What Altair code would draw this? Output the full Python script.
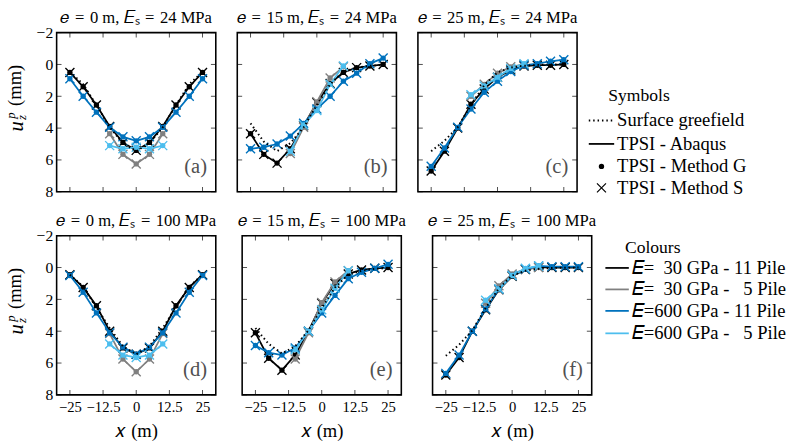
import altair as alt
import pandas as pd

# Pile positions along the row (m) and axis tick values
X11 = [-25, -20, -15, -10, -5, 0, 5, 10, 15, 20, 25]
X5 = [-10, -5, 0, 5, 10]
X_TICKS = [-25, -12.5, 0, 12.5, 25]
Y_TICKS = [-2, 0, 2, 4, 6, 8]

# (a) e = 0 m, Es = 24 MPa  -- vertical displacement (mm)
A_GF = [0.45, 1.25, 2.55, 3.95, 4.95, 5.45, 4.95, 3.95, 2.55, 1.25, 0.45]
A_E30_N11 = [0.5, 1.4, 2.55, 3.9, 4.9, 5.4, 4.9, 3.9, 2.55, 1.4, 0.5]
A_E30_N5 = [4.35, 5.65, 6.25, 5.65, 4.35]
A_E600_N11 = [0.9, 2.0, 3.0, 3.95, 4.55, 4.8, 4.55, 3.95, 3.0, 2.0, 0.9]
A_E600_N5 = [5.1, 5.3, 5.2, 5.3, 5.1]

# (b) e = 15 m, Es = 24 MPa
B_GF = [3.7, 4.85, 5.45, 4.95, 3.95, 2.55, 1.25, 0.45, 0.2, 0.08, 0.03]
B_E30_N11 = [4.35, 5.65, 6.2, 5.3, 3.85, 2.4, 1.2, 0.5, 0.2, 0.1, 0.0]
B_E30_N5 = [5.6, 3.95, 2.35, 0.85, 0.15]
B_E600_N11 = [5.3, 5.2, 5.0, 4.5, 3.7, 2.8, 2.0, 1.05, 0.55, -0.05, -0.4]
B_E600_N5 = [5.45, 3.8, 2.9, 1.25, 0.1]

# (c) e = 25 m, Es = 24 MPa
C_GF = [5.45, 4.8, 3.95, 2.55, 1.3, 0.5, 0.2, 0.08, 0.03, 0.01, 0.0]
C_E30_N11 = [6.7, 5.45, 4.0, 2.5, 1.55, 0.8, 0.35, 0.1, 0.05, 0.05, 0.0]
C_E30_N5 = [2.0, 1.25, 0.55, 0.15, 0.0]
C_E600_N11 = [6.4, 5.25, 3.95, 2.8, 1.75, 1.05, 0.45, 0.05, -0.05, -0.2, -0.3]
C_E600_N5 = [1.9, 1.35, 0.8, 0.25, -0.05]

# (d) e = 0 m, Es = 100 MPa
D_GF = [0.45, 1.2, 2.5, 3.8, 4.95, 5.45, 4.95, 3.8, 2.5, 1.2, 0.45]
D_E30_N11 = [0.45, 1.25, 2.4, 4.0, 5.05, 5.45, 5.05, 4.0, 2.4, 1.25, 0.45]
D_E30_N5 = [4.15, 5.75, 6.55, 5.75, 4.15]
D_E600_N11 = [0.5, 1.55, 2.85, 4.1, 5.0, 5.45, 5.0, 4.1, 2.85, 1.55, 0.5]
D_E600_N5 = [4.8, 5.5, 5.65, 5.5, 4.8]

# (e) e = 15 m, Es = 100 MPa
E_GF = [3.8, 4.8, 5.4, 4.95, 3.95, 2.55, 1.25, 0.45, 0.2, 0.08, 0.03]
E_E30_N11 = [4.1, 5.7, 6.45, 5.5, 4.0, 2.25, 1.0, 0.4, 0.15, 0.05, 0.0]
E_E30_N5 = [5.75, 4.1, 2.2, 0.9, 0.2]
E_E600_N11 = [4.9, 5.35, 5.5, 5.05, 4.0, 2.85, 1.75, 0.7, 0.3, 0.05, -0.2]
E_E600_N5 = [5.15, 4.0, 2.65, 1.3, 0.2]

# (f) e = 25 m, Es = 100 MPa
F_GF = [5.55, 4.85, 3.95, 2.55, 1.3, 0.5, 0.2, 0.08, 0.03, 0.01, 0.0]
F_E30_N11 = [6.75, 5.65, 4.0, 2.65, 1.4, 0.55, 0.12, -0.02, 0.0, 0.0, 0.0]
F_E30_N5 = [2.25, 1.15, 0.4, 0.1, 0.0]
F_E600_N11 = [6.65, 5.5, 4.0, 2.6, 1.35, 0.5, 0.1, -0.1, -0.05, -0.05, -0.05]
F_E600_N5 = [2.05, 1.35, 0.5, 0.05, -0.1]

EQ = "\u2004=\u2004"
TITLES = [
    f"𝑒{EQ}0 m, 𝐸ₛ{EQ}24 MPa", f"𝑒{EQ}15 m, 𝐸ₛ{EQ}24 MPa", f"𝑒{EQ}25 m, 𝐸ₛ{EQ}24 MPa",
    f"𝑒{EQ}0 m, 𝐸ₛ{EQ}100 MPa", f"𝑒{EQ}15 m, 𝐸ₛ{EQ}100 MPa", f"𝑒{EQ}25 m, 𝐸ₛ{EQ}100 MPa",
]
LETTERS = ["(a)", "(b)", "(c)", "(d)", "(e)", "(f)"]
GREENFIELD = [A_GF, B_GF, C_GF, D_GF, E_GF, F_GF]
SETTLEMENT = [
    [A_E30_N11, A_E30_N5, A_E600_N11, A_E600_N5],
    [B_E30_N11, B_E30_N5, B_E600_N11, B_E600_N5],
    [C_E30_N11, C_E30_N5, C_E600_N11, C_E600_N5],
    [D_E30_N11, D_E30_N5, D_E600_N11, D_E600_N5],
    [E_E30_N11, E_E30_N5, E_E600_N11, E_E600_N5],
    [F_E30_N11, F_E30_N5, F_E600_N11, F_E600_N5],
]
SERIES_X = [X11, X5, X11, X5]
SERIES_COLORS = ["#000000", "#808080", "#0072BD", "#4DBEEE"]

SYM_TITLE = "Symbols"
SYM_LABELS = ["Surface greefield", "TPSI - Abaqus", "TPSI - Method G", "TPSI - Method S"]
COL_TITLE = "Colours"
COL_LABELS = [
    "𝐸=\u200730 GPa - 11 Piles",
    "𝐸=\u200730 GPa - \u20075 Piles",
    "𝐸=600 GPa - 11 Piles",
    "𝐸=600 GPa - \u20075 Piles",
]

SERIF = "Liberation Serif"
W = H = 163
XS = alt.Scale(domain=[-30, 30], nice=False, zero=False)
YS = alt.Scale(domain=[-2, 8], reverse=True, nice=False, zero=False)
CROSS = "M-1,-1L1,1M-1,1L1,-1"


def x_enc(show):
    if show:
        ax = alt.Axis(values=X_TICKS, format=".3~g", ticks=False, domain=False, grid=False,
                      labelFont=SERIF, labelFontSize=15, labelColor="black",
                      labelPadding=5, labelOverlap=False, labelFlush=False,
                      title="𝑥 (m)", titleFont=SERIF, titleFontSize=19,
                      titleFontWeight="normal", titleColor="black", titlePadding=8)
        return alt.X("x:Q", scale=XS, axis=ax)
    return alt.X("x:Q", scale=XS, axis=None)


def y_enc(show):
    if show:
        ax = alt.Axis(values=Y_TICKS, format=".3~g", ticks=False, domain=False, grid=False,
                      labelFont=SERIF, labelFontSize=16, labelColor="black",
                      labelPadding=4, labelOverlap=False, labelFlush=False, title=None)
        return alt.Y("y:Q", scale=YS, axis=ax)
    return alt.Y("y:Q", scale=YS, axis=None)


def one(t):
    return alt.Chart(pd.DataFrame({"t": [t]}))


LEG_TXT = dict(font=SERIF, fontSize=19, color="black", align="left", baseline="middle",
               limit=162, ellipsis="\u200b")


def legend_symbols():
    rows = pd.DataFrame({"t": SYM_LABELS, "py": [90, 114, 137, 159]})
    yv = alt.Y("py:Q", scale=None)
    src = alt.Chart(rows)
    head = dict(LEG_TXT, fontSize=18)
    return [
        one(SYM_TITLE).mark_text(**head).encode(text="t:N", x=alt.value(W + 32), y=alt.value(65)),
        src.mark_text(**LEG_TXT).encode(text="t:N", x=alt.value(W + 41), y=yv),
        alt.Chart(rows.iloc[[0]]).mark_rule(color="black", strokeWidth=2, strokeDash=[1.5, 3]).encode(
            x=alt.value(W + 12), x2=alt.value(W + 38), y=yv),
        alt.Chart(rows.iloc[[1]]).mark_rule(color="black", strokeWidth=1.8).encode(
            x=alt.value(W + 12), x2=alt.value(W + 38), y=yv),
        alt.Chart(rows.iloc[[2]]).mark_circle(color="black", size=30, opacity=1).encode(
            x=alt.value(W + 25), y=yv),
        alt.Chart(rows.iloc[[3]]).mark_point(shape=CROSS, color="black", size=85, strokeWidth=1.2,
                                             filled=False, opacity=1).encode(x=alt.value(W + 25), y=yv),
    ]


def legend_colours():
    rows = pd.DataFrame({"t": COL_LABELS, "py": [33, 55, 77, 100], "c": SERIES_COLORS})
    yv = alt.Y("py:Q", scale=None)
    src = alt.Chart(rows)
    head = dict(LEG_TXT, fontSize=18)
    return [
        one(COL_TITLE).mark_text(**head).encode(text="t:N", x=alt.value(W + 34), y=alt.value(13)),
        src.mark_rule(strokeWidth=1.8).encode(x=alt.value(W + 14), x2=alt.value(W + 38), y=yv,
                                              color=alt.Color("c:N", scale=None)),
        src.mark_text(**LEG_TXT).encode(text="t:N", x=alt.value(W + 41), y=yv),
    ]


def panel(i, show_y, show_x):
    layers = []
    for xs_, vals, col in zip(SERIES_X, SETTLEMENT[i], SERIES_COLORS):
        base = alt.Chart(pd.DataFrame({"x": xs_, "y": vals})).encode(
            x=x_enc(show_x), y=y_enc(show_y))
        layers.append(base.mark_line(color=col, strokeWidth=1.8))
        layers.append(base.mark_circle(color=col, size=30, opacity=1))
        layers.append(base.mark_point(shape=CROSS, color=col, size=85,
                                      strokeWidth=1.4, filled=False, opacity=1))

    gf = alt.Chart(pd.DataFrame({"x": X11, "y": GREENFIELD[i]})).mark_line(
        color="black", strokeDash=[1.5, 3], strokeWidth=2
    ).encode(x=x_enc(show_x), y=y_enc(show_y))
    layers.append(gf)

    # inward ticks on all four sides
    xt = alt.Chart(pd.DataFrame({"x": X_TICKS}))
    yt = alt.Chart(pd.DataFrame({"y": Y_TICKS}))
    tk = dict(color="black", size=5, thickness=1)
    layers.append(xt.mark_tick(orient="vertical", **tk).encode(x=x_enc(show_x), y=alt.value(H - 2.5)))
    layers.append(xt.mark_tick(orient="vertical", **tk).encode(x=x_enc(show_x), y=alt.value(2.5)))
    layers.append(yt.mark_tick(orient="horizontal", **tk).encode(y=y_enc(show_y), x=alt.value(2.5)))
    layers.append(yt.mark_tick(orient="horizontal", **tk).encode(y=y_enc(show_y), x=alt.value(W - 2.5)))

    # panel letter and heading
    layers.append(one(LETTERS[i]).mark_text(
        align="right", baseline="middle", font=SERIF, fontSize=21, color="#505050"
    ).encode(text="t:N", x=alt.value(W - 9), y=alt.value(H - 25)))
    layers.append(one(TITLES[i]).mark_text(
        align="center", baseline="middle", font=SERIF, fontSize=17, color="black"
    ).encode(text="t:N", x=alt.value(W / 2), y=alt.value(-15)))

    if show_y:
        # rotated y label: u with superscript p and subscript z, then the unit
        def lab(t, px, py, size, style):
            return one(t).mark_text(
                angle=270, align="center", baseline="middle", font=SERIF,
                fontSize=size, fontStyle=style, color="black"
            ).encode(text="t:N", x=alt.value(px), y=alt.value(py))
        layers.append(lab("(mm)", -43, 54, 19, "normal"))
        layers.append(lab("u", -40, 96, 21, "italic"))
        layers.append(lab("p", -47, 85, 13, "italic"))
        layers.append(lab("z", -35, 87, 13, "italic"))

    if i == 2:
        layers += legend_symbols()
    if i == 5:
        layers += legend_colours()

    return alt.layer(*layers).properties(width=W, height=H)


panels = [panel(i, i % 3 == 0, i >= 3) for i in range(6)]
row1 = alt.hconcat(panels[0], panels[1], panels[2], spacing=20)
row2 = alt.hconcat(panels[3], panels[4], panels[5], spacing=20)

chart = alt.vconcat(row1, row2, spacing=11).properties(
    padding={"left": 4, "top": 3, "right": 0, "bottom": 0},
    background="white",
).configure_view(stroke="black", strokeWidth=1.6)

chart.save("out.html", embed_options={"renderer": "svg", "actions": False})
